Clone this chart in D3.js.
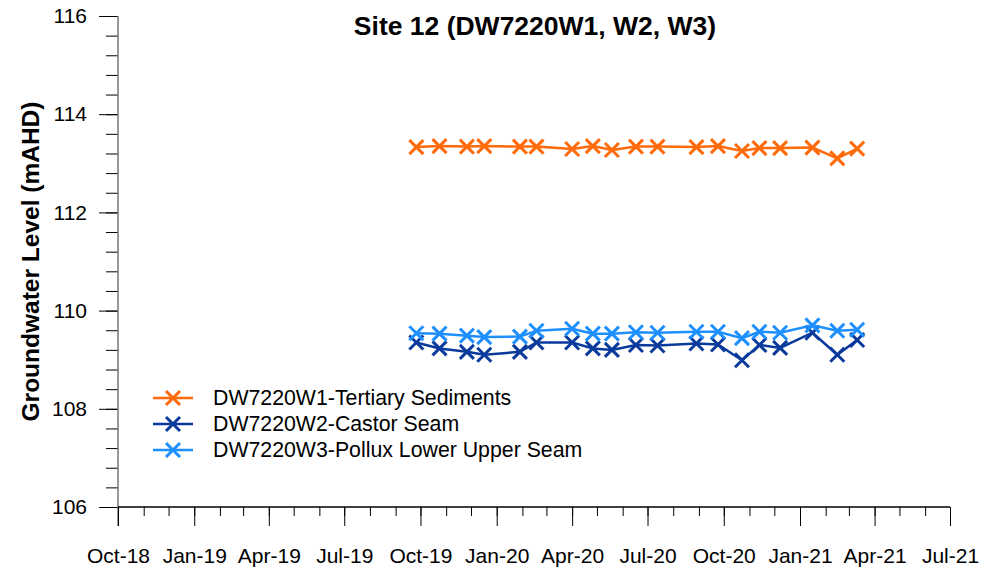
<!DOCTYPE html>
<html><head><meta charset="utf-8">
<script src="https://cdn.jsdelivr.net/npm/d3@7"></script>
<style>body{margin:0;background:#fff}svg{display:block;font-family:"Liberation Sans",Arial,sans-serif}</style>
</head><body><svg id="c" width="1000" height="572"></svg>
<script>
const dates = ["2019-09-26","2019-10-24","2019-11-26","2019-12-17","2020-01-29","2020-02-18","2020-04-01","2020-04-26","2020-05-19","2020-06-17","2020-07-13","2020-08-29","2020-09-24","2020-10-23","2020-11-13","2020-12-08","2021-01-16","2021-02-15","2021-03-11"];
const w1 = [113.33,113.35,113.34,113.35,113.34,113.34,113.29,113.35,113.27,113.34,113.34,113.33,113.35,113.25,113.31,113.31,113.32,113.10,113.30];
const w2 = [109.35,109.23,109.16,109.10,109.16,109.35,109.35,109.23,109.20,109.30,109.29,109.33,109.31,108.99,109.30,109.24,109.55,109.10,109.40];
const w3 = [109.54,109.53,109.49,109.46,109.47,109.59,109.63,109.53,109.53,109.56,109.55,109.57,109.57,109.44,109.57,109.55,109.70,109.59,109.61];
const seriesNames = ["DW7220W1-Tertiary Sediments","DW7220W2-Castor Seam","DW7220W3-Pollux Lower Upper Seam"];
const seriesColors = ["#FF6A0A","#0A3A9C","#1E8FFF"];
const yTicks = [106,108,110,112,114,116];
const xTickLabels = ["Oct-18","Jan-19","Apr-19","Jul-19","Oct-19","Jan-20","Apr-20","Jul-20","Oct-20","Jan-21","Apr-21","Jul-21"];
const title = "Site 12 (DW7220W1, W2, W3)";
const yLabel = "Groundwater Level (mAHD)";

const svg = d3.select("#c");
const parse = d3.timeParse("%Y-%m-%d");
const L = 118, R = 950, T = 16, B = 507;
const FS = 21;
const x = d3.scaleTime().domain([new Date(2018,9,1), new Date(2021,6,1)]).range([L,R]);
const y = d3.scaleLinear().domain([106,116]).range([B,T]);

// y axis
const yMinor = d3.range(106,116.001,0.4);
svg.append("g").attr("transform",`translate(${L},0)`)
  .call(d3.axisLeft(y).tickValues(yMinor).tickSize(12).tickFormat(""))
  .call(g=>g.select(".domain").remove())
  .call(g=>g.selectAll("line").attr("stroke","#000").attr("stroke-width",1));
svg.append("g").attr("transform",`translate(${L},0)`)
  .call(d3.axisLeft(y).tickValues(yTicks).tickSize(19).tickPadding(12).tickFormat(d3.format("d")))
  .call(g=>g.select(".domain").remove())
  .call(g=>g.selectAll("line").attr("stroke","#000"))
  .call(g=>g.selectAll("text").attr("font-size",FS).attr("fill","#000").attr("font-family","Liberation Sans, Arial"));
svg.append("line").attr("x1",L).attr("x2",L).attr("y1",T).attr("y2",B+19).attr("stroke","#777").attr("stroke-width",1.5);

// x axis
const months = d3.timeMonth.range(new Date(2018,9,1), new Date(2021,6,2));
svg.append("g").attr("transform",`translate(0,${B})`)
  .call(d3.axisBottom(x).tickValues(months).tickSize(9).tickFormat(""))
  .call(g=>g.select(".domain").remove())
  .call(g=>g.selectAll("line").attr("stroke","#000"));
const quarters = d3.timeMonth.every(3).range(new Date(2018,9,1), new Date(2021,6,2));
svg.append("g").attr("transform",`translate(0,${B})`)
  .call(d3.axisBottom(x).tickValues(quarters).tickSize(19).tickPadding(22).tickFormat((d,i)=>xTickLabels[i]))
  .call(g=>g.select(".domain").remove())
  .call(g=>g.selectAll("line").attr("stroke","#000"))
  .call(g=>g.selectAll("text").attr("font-size",FS).attr("fill","#000").attr("font-family","Liberation Sans, Arial"));
svg.append("line").attr("x1",L).attr("x2",R).attr("y1",B).attr("y2",B).attr("stroke","#000").attr("stroke-width",1.5);

// series
const allSeries = [w1,w2,w3];
const line = d3.line().x(d=>x(d.date)).y(d=>y(d.v));
const s = 7;
function cross(g, cx, cy, color){
  g.append("path").attr("d",`M${cx-s},${cy-s}L${cx+s},${cy+s}M${cx-s},${cy+s}L${cx+s},${cy-s}`)
   .attr("stroke",color).attr("stroke-width",3).attr("fill","none");
}
[0,1,2].forEach(k=>{
  const data = dates.map((d,i)=>({date:parse(d), v:allSeries[k][i]}));
  const g = svg.append("g");
  g.append("path").datum(data).attr("d",line).attr("fill","none").attr("stroke",seriesColors[k]).attr("stroke-width",2.5);
  data.forEach(d=>cross(g, x(d.date), y(d.v), seriesColors[k]));
});

// legend
const legY = [398,424,450];
seriesNames.forEach((n,i)=>{
  const g = svg.append("g");
  g.append("line").attr("x1",153).attr("x2",193).attr("y1",legY[i]).attr("y2",legY[i]).attr("stroke",seriesColors[i]).attr("stroke-width",2.5);
  cross(g,173,legY[i],seriesColors[i]);
  g.append("text").attr("x",213).attr("y",legY[i]).attr("dy","0.35em").attr("font-size",21.3).text(n);
});

// title
svg.append("text").attr("x",535).attr("y",35)
  .attr("text-anchor","middle").attr("font-size",26.5).attr("font-weight","bold").text(title);
// y label
svg.append("text").attr("transform",`translate(30,${(T+B)/2}) rotate(-90)`).attr("text-anchor","middle")
  .attr("dy","0.35em").attr("font-size",24.5).attr("font-weight","bold").text(yLabel);
</script></body></html>
